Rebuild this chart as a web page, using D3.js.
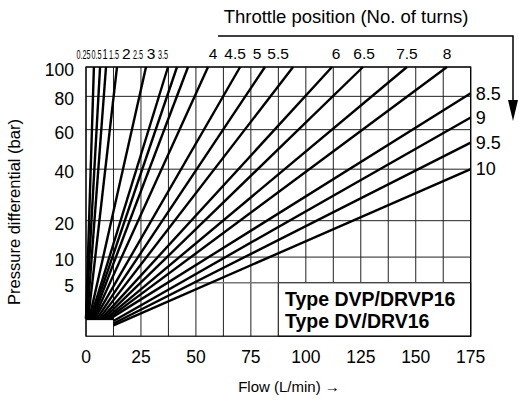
<!DOCTYPE html>
<html>
<head>
<meta charset="utf-8">
<script src="https://cdn.jsdelivr.net/npm/d3@7"></script>
<style>
  body { margin: 0; background: #fff; }
  text { font-family: "Liberation Sans", Arial, sans-serif; fill: #000; }
</style>
</head>
<body>
<div id="chart"></div>
<script>
// throttle positions (no. of turns)
const turns = ['0.25', '0.5', '1', '1.5', '2', '2.5', '3', '3.5', '4', '4.5', '5', '5.5', '6', '6.5', '7.5', '8', '8.5', '9', '9.5', '10'];
// where each line ends: flow (L/min) and pressure (bar)
const endFlow = [3.6, 6.4, 9.1, 14.1, 27.3, 37.3, 41.4, 46.4, 55.5, 70.1, 81.4, 94.2, 111.9, 126, 146, 164.2, 175, 175, 175, 175];
const endPressure = [100, 100, 100, 100, 100, 100, 100, 100, 100, 100, 100, 100, 100, 100, 100, 100, 82, 67, 53, 40];
// where each line starts
const startFlow = [0, 0, 0.5, 1, 1.5, 2, 2.5, 3, 3.5, 4, 5, 6, 7, 8, 9, 10, 11, 12.5, 12.5, 12.5];
const startPressure = [0.9, 0.9, 0.9, 0.9, 0.9, 0.9, 0.9, 0.9, 0.9, 0.9, 0.9, 0.9, 0.9, 0.9, 0.9, 0.9, 0.9, 0.75, 0.6, 0.5];
// label spots above the chart (flow units)
const topLabelFlow = [-1.1, 4.8, 8.7, 12.7, 18.3, 23.7, 29.6, 35, 57.8, 67.8, 77.8, 87.4, 113.7, 126.5, 146, 164.2];
const narrowLabels = ['0.25', '0.5', '1', '1.5', '2.5', '3.5'];

const xTicks = [0, 25, 50, 75, 100, 125, 150, 175];
const xGrid = d3.range(0, 175.1, 12.5);
const yTicks = [5, 10, 20, 40, 60, 80, 100];

const width = 519, height = 400;

const x = d3.scaleLinear().domain([0, 175]).range([86, 470.7]);
const y = d3.scaleSqrt().domain([0, 100]).range([345, 67]);
const yBottom = y(0.1);

const svg = d3.select('#chart').append('svg')
  .attr('width', width)
  .attr('height', height);

// grid
svg.append('g')
  .selectAll('line')
  .data(xGrid)
  .join('line')
  .attr('x1', (d) => x(d)).attr('x2', (d) => x(d))
  .attr('y1', y(100)).attr('y2', yBottom)
  .attr('stroke', '#222').attr('stroke-width', 1);

svg.append('g')
  .selectAll('line')
  .data(yTicks)
  .join('line')
  .attr('x1', (d) => (d === 5 ? x(50) : x(0))).attr('x2', x(175))
  .attr('y1', (d) => y(d)).attr('y2', (d) => y(d))
  .attr('stroke', (d) => (d === 5 ? '#777' : '#222')).attr('stroke-width', (d) => (d === 5 ? 1.5 : 1));

// legend box
svg.append('rect')
  .attr('x', x(87.5))
  .attr('y', y(5))
  .attr('width', x(175) - x(87.5))
  .attr('height', yBottom - y(5))
  .attr('fill', '#fff')
  .attr('stroke', '#222');

svg.append('text')
  .attr('x', x(90.5)).attr('y', y(5) + 23)
  .attr('font-size', 19.5).attr('font-weight', 'bold')
  .text('Type DVP/DRVP16');
svg.append('text')
  .attr('x', x(90.5)).attr('y', y(5) + 45)
  .attr('font-size', 19.5).attr('font-weight', 'bold')
  .text('Type DV/DRV16');

// frame
svg.append('rect')
  .attr('x', x(0)).attr('y', y(100))
  .attr('width', x(175) - x(0))
  .attr('height', yBottom - y(100))
  .attr('fill', 'none')
  .attr('stroke', '#000').attr('stroke-width', 1.2);

// throttle lines
const lines = turns.map((t, i) => ({
  t,
  x1: startFlow[i], y1: startPressure[i],
  x2: endFlow[i], y2: endPressure[i],
}));

svg.append('line')
  .attr('x1', x(d3.min(startFlow))).attr('x2', x(12.5))
  .attr('y1', y(0.9)).attr('y2', y(0.9))
  .attr('stroke', '#000').attr('stroke-width', 3);

svg.append('g')
  .selectAll('line')
  .data(lines)
  .join('line')
  .attr('x1', (d) => x(d.x1)).attr('y1', (d) => y(d.y1))
  .attr('x2', (d) => x(d.x2)).attr('y2', (d) => y(d.y2))
  .attr('stroke', '#000').attr('stroke-width', 2.4)
  .attr('stroke-linecap', 'butt');

// top labels (the crowded ones are squeezed sideways)
const topLines = turns.slice(0, topLabelFlow.length);
svg.append('g')
  .selectAll('text')
  .data(topLines)
  .join('text')
  .attr('transform', (d, i) => {
    const sx = d === '1' ? 0.6 : narrowLabels.includes(d) ? 0.58 : 1;
    return `translate(${x(topLabelFlow[i])},59) scale(${sx},1)`;
  })
  .attr('text-anchor', 'middle')
  .attr('font-size', (d) => (narrowLabels.includes(d) && d !== '1' ? 12.5 : 15.5))
  .text((d) => d);

// right labels
svg.append('g')
  .selectAll('text')
  .data(lines.filter((d) => d.x2 >= 175))
  .join('text')
  .attr('x', x(175) + 5)
  .attr('y', (d) => y(d.y2))
  .attr('dy', '0.35em')
  .attr('font-size', 18)
  .text((d) => d.t);

// axes labels
svg.append('g')
  .selectAll('text')
  .data(xTicks)
  .join('text')
  .attr('x', (d) => x(d))
  .attr('y', yBottom + 27)
  .attr('text-anchor', 'middle')
  .attr('font-size', 17.5)
  .text((d) => d);

svg.append('g')
  .selectAll('text')
  .data(yTicks)
  .join('text')
  .attr('x', x(0) - 12)
  .attr('y', (d) => y(d) + 3)
  .attr('dy', '0.35em')
  .attr('text-anchor', 'end')
  .attr('font-size', 17.5)
  .text((d) => d);

svg.append('text')
  .attr('transform', `translate(20,212) rotate(-90)`)
  .attr('text-anchor', 'middle')
  .attr('font-size', 16.5)
  .text('Pressure differential (bar)');

svg.append('text')
  .attr('x', 289)
  .attr('y', 392)
  .attr('text-anchor', 'middle')
  .attr('font-size', 15)
  .text('Flow (L/min) \u2192');

// throttle arrow
svg.append('text')
  .attr('x', 346)
  .attr('y', 23)
  .attr('text-anchor', 'middle')
  .attr('font-size', 18.5)
  .text('Throttle position (No. of turns)');

svg.append('path')
  .attr('d', d3.line()([[218, 36], [513, 36], [513, 104]]))
  .attr('fill', 'none')
  .attr('stroke', '#000').attr('stroke-width', 1.5);

svg.append('path')
  .attr('d', d3.line()([[508, 100], [518, 100], [513, 121]]) + 'Z')
  .attr('fill', '#000');
</script>
</body>
</html>
